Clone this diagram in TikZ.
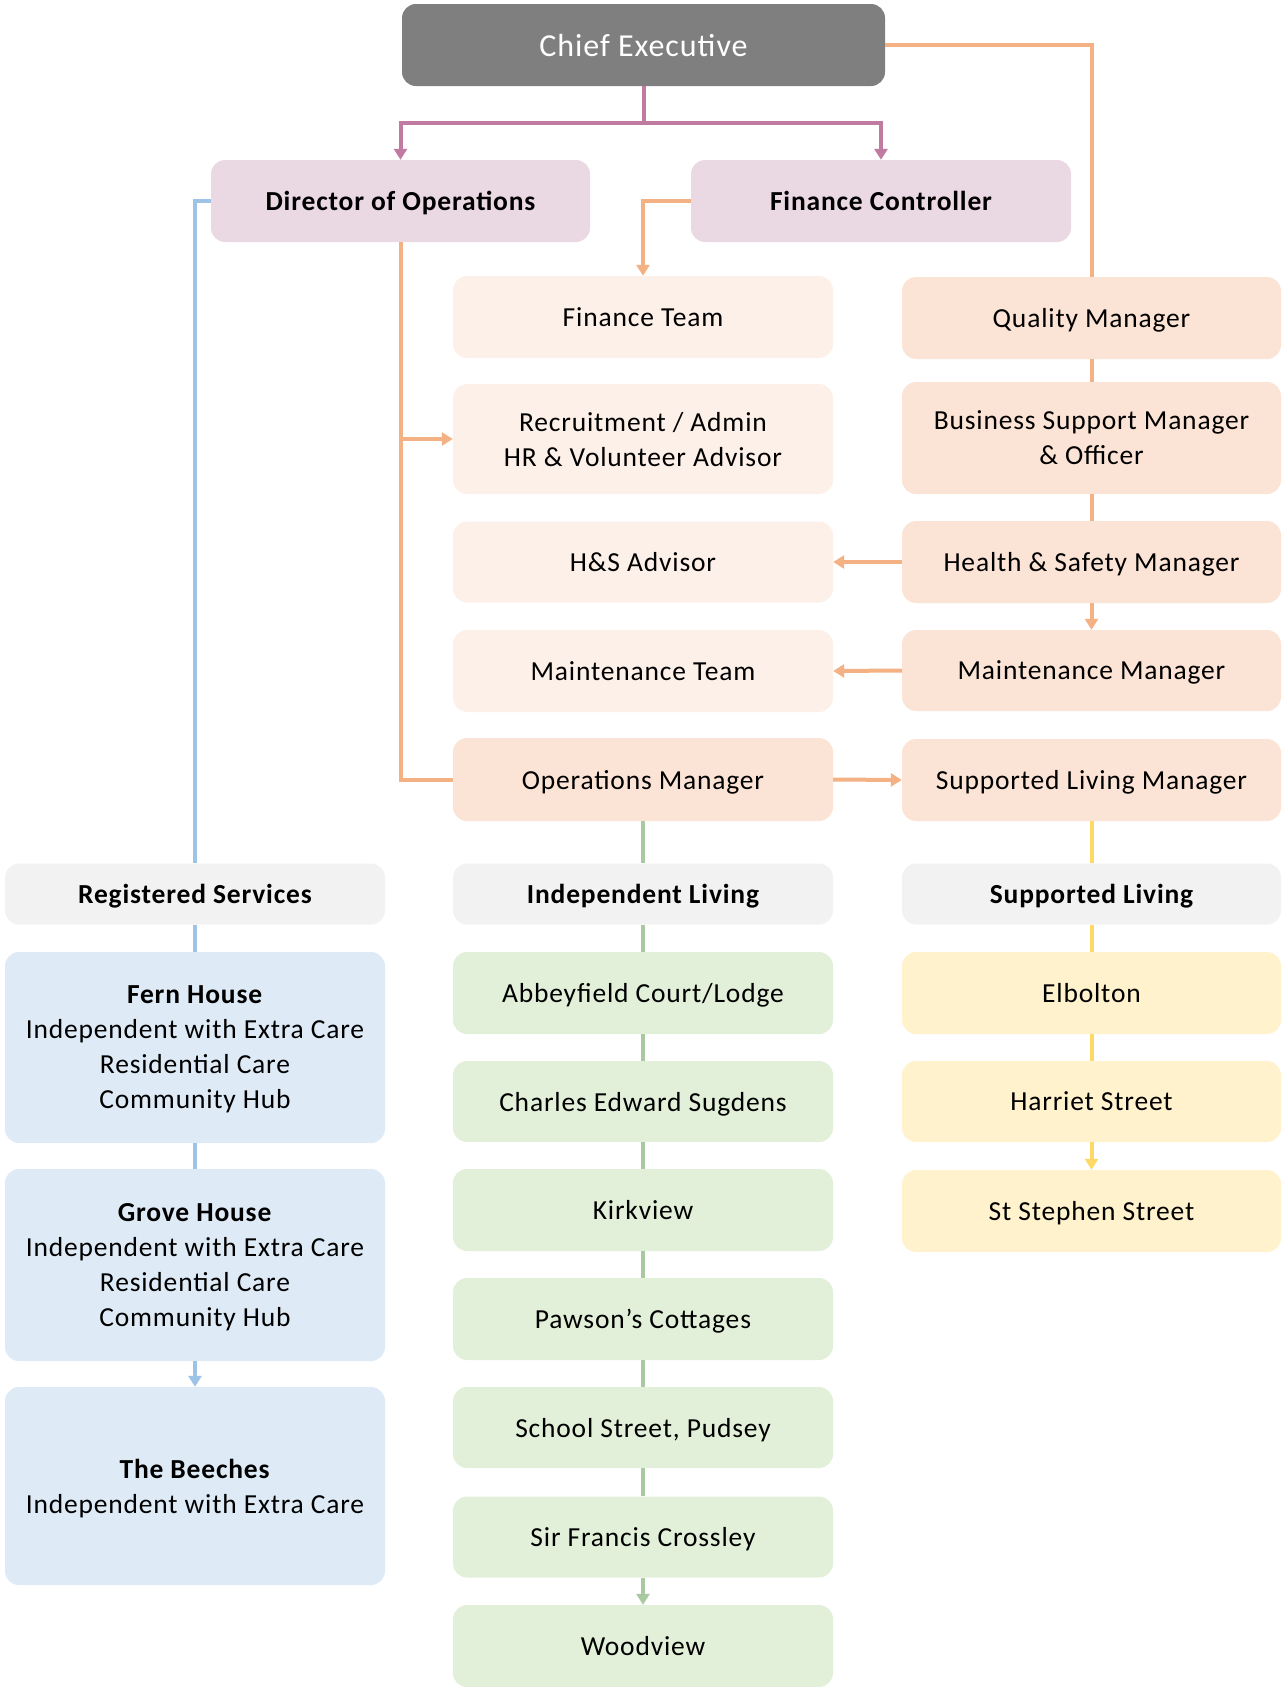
\documentclass[tikz,border=0pt]{standalone}
\usepackage{fontspec}
\setmainfont{Carlito}[LetterSpace=3]
\usetikzlibrary{arrows.meta}
\definecolor{ceGray}{HTML}{7F7F7F}
\definecolor{pinkFill}{HTML}{EAD8E3}
\definecolor{purpleLine}{HTML}{C27BA0}
\definecolor{orangeLine}{HTML}{F4B183}
\definecolor{paleOrange}{HTML}{FDF0E8}
\definecolor{lightOrange}{HTML}{FBE4D5}
\definecolor{headGray}{HTML}{F2F2F2}
\definecolor{blueFill}{HTML}{DEEBF7}
\definecolor{blueLine}{HTML}{9DC3E6}
\definecolor{greenFill}{HTML}{E2F0D9}
\definecolor{greenLine}{HTML}{A9C9A0}
\definecolor{yellowFill}{HTML}{FFF2CC}
\definecolor{yellowLine}{HTML}{FFD966}
\tikzset{
  box/.style={rectangle, rounded corners=14pt, inner sep=0pt, align=center, text=black,
    text depth=0pt, font=\fontsize{27.5}{35}\selectfont},
  sz/.style 2 args={minimum width=#1pt, minimum height=#2pt},
  cebox/.style={box, fill=ceGray, text=white, font=\fontsize{32}{38}\selectfont},
  topbox/.style={box, fill=pinkFill, font=\fontsize{27.5}{35}\selectfont\bfseries},
  paleb/.style={box, fill=paleOrange},
  orangeb/.style={box, fill=lightOrange},
  headb/.style={box, fill=headGray, font=\fontsize{27.5}{35}\selectfont\bfseries},
  blueb/.style={box, fill=blueFill},
  greenb/.style={box, fill=greenFill},
  yellowb/.style={box, fill=yellowFill},
  conn/.style={line width=4pt},
  arr/.style={conn, -{Triangle[width=13pt,length=11pt]}},
}
\begin{document}
\begin{tikzpicture}[x=1pt,y=-1pt]
\useasboundingbox (0,0) rectangle (1282,1687);
% top
\node[cebox, sz={483}{82}] (ce) at (643.5,45) {Chief Executive};
\node[topbox, sz={379}{82}] (dir) at (400.5,201) {Director of Operations};
\node[topbox, sz={380}{82}] (fc) at (881,201) {Finance Controller};
% middle orange column
\node[paleb, sz={380}{82}] (ft) at (643,317) {Finance Team};
\node[paleb, sz={380}{110}] (rec) at (643,439) {Recruitment / Admin\\HR \& Volunteer Advisor};
\node[paleb, sz={380}{81}] (hsa) at (643,562) {H\&S Advisor};
\node[paleb, sz={380}{82}] (mt) at (643,671) {Maintenance Team};
\node[orangeb, sz={380}{83}] (om) at (643,779.5) {Operations Manager};
% right orange column
\node[orangeb, sz={379}{82}] (qm) at (1091.5,318) {Quality Manager};
\node[orangeb, sz={379}{112}] (bsm) at (1091.5,438) {Business Support Manager\\\& Officer};
\node[orangeb, sz={379}{82}] (hsm) at (1091.5,562) {Health \& Safety Manager};
\node[orangeb, sz={379}{81}] (mm) at (1091.5,670.5) {Maintenance Manager};
\node[orangeb, sz={379}{82}] (slm) at (1091.5,780) {Supported Living Manager};
% headers
\node[headb, sz={380}{61}] (rs) at (195,894) {Registered Services};
\node[headb, sz={380}{61}] (il) at (643,894) {Independent Living};
\node[headb, sz={379}{61}] (sl) at (1091.5,894) {Supported Living};
% registered services
\node[blueb, sz={380}{191}] (fern) at (195,1047.5) {\textbf{Fern House}\\Independent with Extra Care\\Residential Care\\Community Hub};
\node[blueb, sz={380}{192}] (grove) at (195,1265) {\textbf{Grove House}\\Independent with Extra Care\\Residential Care\\Community Hub};
\node[blueb, sz={380}{198}] (beech) at (195,1486) {\textbf{The Beeches}\\Independent with Extra Care};
% independent living
\node[greenb, sz={380}{82}] (abbey) at (643,993) {Abbeyfield Court/Lodge};
\node[greenb, sz={380}{81}] (charles) at (643,1101.5) {Charles Edward Sugdens};
\node[greenb, sz={380}{82}] (kirk) at (643,1210) {Kirkview};
\node[greenb, sz={380}{82}] (pawson) at (643,1319) {Pawson’s Cottages};
\node[greenb, sz={380}{81}] (school) at (643,1427.5) {School Street, Pudsey};
\node[greenb, sz={380}{81}] (sir) at (643,1537) {Sir Francis Crossley};
\node[greenb, sz={380}{82}] (wood) at (643,1646) {Woodview};
% supported living
\node[yellowb, sz={379}{82}] (elb) at (1091.5,993) {Elbolton};
\node[yellowb, sz={379}{81}] (har) at (1091.5,1101.5) {Harriet Street};
\node[yellowb, sz={379}{82}] (sts) at (1091.5,1211) {St Stephen Street};
% purple connectors
\coordinate (cej) at (643.5,123);
\draw[conn, purpleLine] (ce.south) -- (cej);
\draw[arr, purpleLine] (cej) -| (dir.north);
\draw[arr, purpleLine] (cej) -| (fc.north);
% orange connectors
\draw[conn, orangeLine] (ce.east) -| (qm.north);
\draw[arr, orangeLine] (fc.west) -| (ft.north);
\draw[conn, orangeLine] (dir.south) |- (om.west);
\draw[arr, orangeLine] (dir.south |- rec.west) -- (rec.west);
\draw[conn, orangeLine] (qm.south) -- (bsm.north);
\draw[conn, orangeLine] (bsm.south) -- (hsm.north);
\draw[arr, orangeLine] (hsm.south) -- (mm.north);
\draw[arr, orangeLine] (hsm.west) -- (hsa.east);
\draw[arr, orangeLine] (mm.west) -- (mt.east);
\draw[arr, orangeLine] (om.east) -- (slm.west);
% blue connectors
\draw[conn, blueLine] (dir.west) -| (rs.north);
\draw[conn, blueLine] (rs.south) -- (fern.north);
\draw[conn, blueLine] (fern.south) -- (grove.north);
\draw[arr, blueLine] (grove.south) -- (beech.north);
% green connectors
\draw[conn, greenLine] (om.south) -- (il.north);
\draw[conn, greenLine] (il.south) -- (abbey.north);
\draw[conn, greenLine] (abbey.south) -- (charles.north);
\draw[conn, greenLine] (charles.south) -- (kirk.north);
\draw[conn, greenLine] (kirk.south) -- (pawson.north);
\draw[conn, greenLine] (pawson.south) -- (school.north);
\draw[conn, greenLine] (school.south) -- (sir.north);
\draw[arr, greenLine] (sir.south) -- (wood.north);
% yellow connectors
\draw[conn, yellowLine] (slm.south) -- (sl.north);
\draw[conn, yellowLine] (sl.south) -- (elb.north);
\draw[conn, yellowLine] (elb.south) -- (har.north);
\draw[arr, yellowLine] (har.south) -- (sts.north);
\end{tikzpicture}
\end{document}
